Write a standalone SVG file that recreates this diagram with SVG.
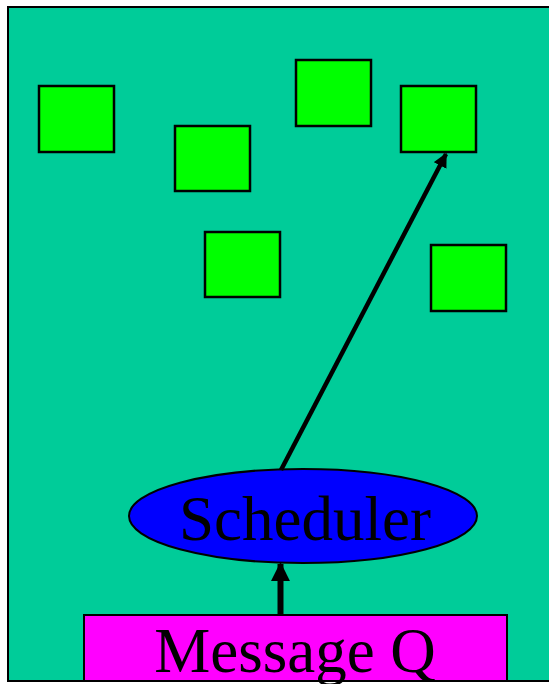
<svg xmlns="http://www.w3.org/2000/svg" width="549" height="684" viewBox="0 0 549 684">
<style>
.box{fill:#00FF00;stroke:#000;stroke-width:2.5}
.lbl{font-family:"Liberation Serif","Times New Roman",serif;font-size:63px;fill:#000;text-anchor:middle}
.conn{stroke:#000;fill:none}
</style>
<defs>
<marker id="ah" viewBox="0 0 10 10" refX="9" refY="5" markerWidth="3.2" markerHeight="3.2" orient="auto" markerUnits="strokeWidth">
<path d="M0,0 L10,5 L0,10 z" fill="#000"/>
</marker>
</defs>
<rect x="0" y="0" width="549" height="684" fill="#fff"/>
<g id="frame"><rect x="8" y="7" width="560" height="674" fill="#00CC99" stroke="#000" stroke-width="2"/></g>
<g id="box1"><rect class="box" x="39" y="86" width="75" height="66"/></g>
<g id="box2"><rect class="box" x="175" y="126" width="75" height="65"/></g>
<g id="box3"><rect class="box" x="296" y="60" width="75" height="66"/></g>
<g id="box4"><rect class="box" x="401" y="86" width="75" height="66"/></g>
<g id="box5"><rect class="box" x="205" y="232" width="75" height="65"/></g>
<g id="box6"><rect class="box" x="431" y="245" width="75" height="66"/></g>
<g id="scheduler">
<ellipse cx="303" cy="516" rx="174" ry="47" fill="#0000FF" stroke="#000" stroke-width="2"/>
<text class="lbl" x="305" y="540">Scheduler</text>
</g>
<g id="messageq">
<rect x="84" y="615" width="423" height="66" fill="#FF00FF" stroke="#000" stroke-width="2"/>
<text class="lbl" x="295" y="672">Message Q</text>
</g>
<g id="connectors">
<line class="conn" x1="280.5" y1="616" x2="280.5" y2="564" stroke-width="6" marker-end="url(#ah)"/>
<line class="conn" x1="281" y1="470" x2="446" y2="154" stroke-width="4.5" marker-end="url(#ah)"/>
</g>
</svg>
